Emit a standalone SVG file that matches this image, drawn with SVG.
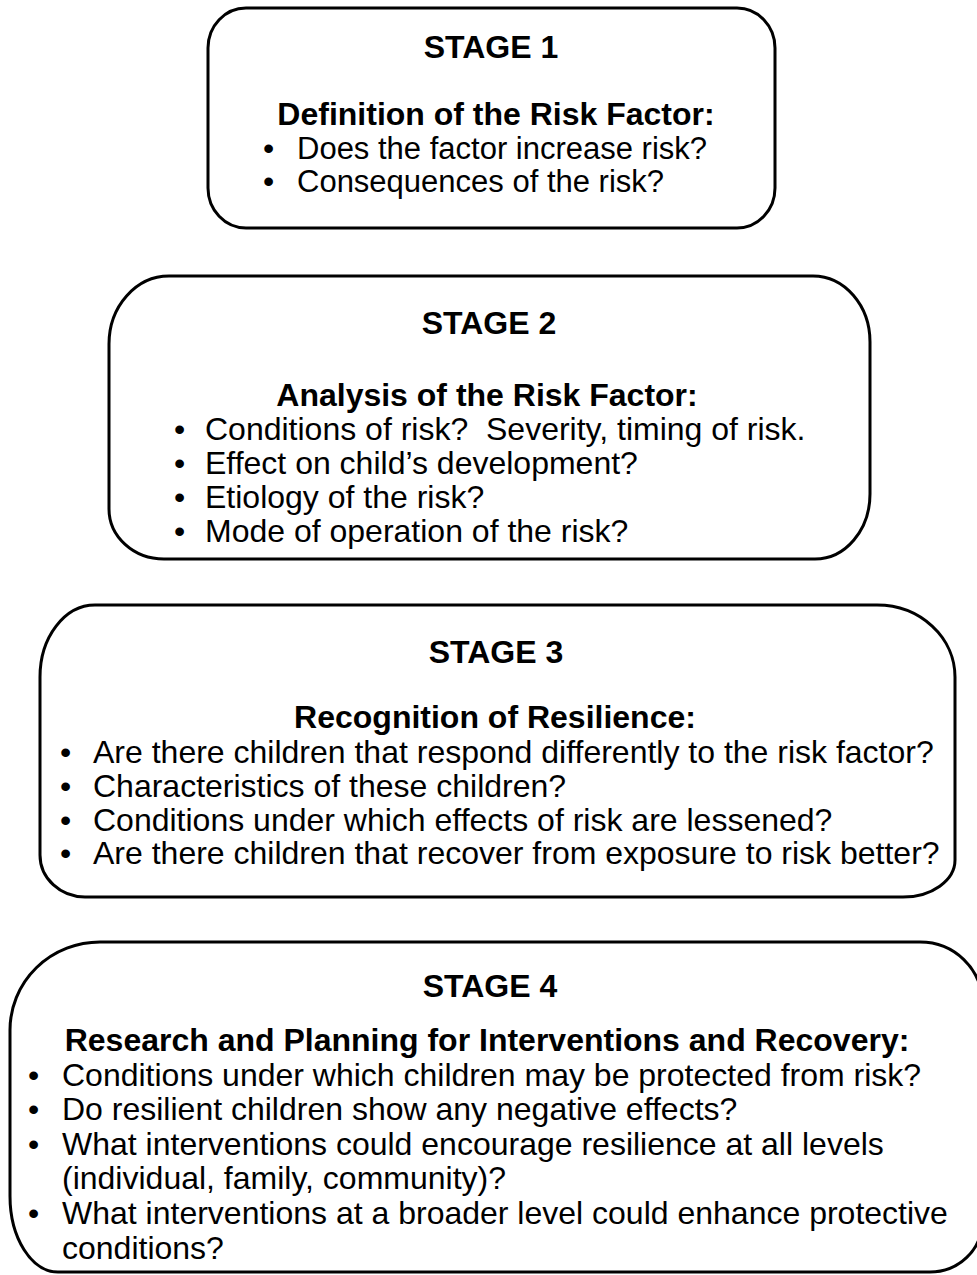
<svg xmlns="http://www.w3.org/2000/svg" width="977" height="1275" viewBox="0 0 977 1275">
<style>
.box{fill:#fff;stroke:#000;stroke-width:3}
text{font-family:"Liberation Sans",Arial,sans-serif;font-size:32px;fill:#000}
.h{font-weight:bold;text-anchor:middle}
</style>
<rect width="977" height="1275" fill="#fff"/>
<g id="stage1">
<path class="box" d="M246,8 H737 A38,40 0 0 1 775,48 V188 A38,40 0 0 1 737,228 H246 A38,40 0 0 1 208,188 V48 A38,40 0 0 1 246,8 Z"/>
<text class="h" x="491" y="58">STAGE 1</text>
<text class="h" x="496" y="125">Definition of the Risk Factor:</text>
<text x="263" y="159">•</text><text x="297" y="159" style="font-size:31px">Does the factor increase risk?</text>
<text x="263" y="192">•</text><text x="297" y="192" style="font-size:31px">Consequences of the risk?</text>
</g>
<g id="stage2">
<path class="box" d="M169,276 H813 A57,66 0 0 1 870,342 V494 A55,65 0 0 1 815,559 H164 A55,50 0 0 1 109,509 V344 A60,68 0 0 1 169,276 Z"/>
<text class="h" x="489" y="334">STAGE 2</text>
<text class="h" x="487" y="406">Analysis of the Risk Factor:</text>
<text x="174" y="440">•</text><text x="205" y="440" xml:space="preserve">Conditions of risk?  Severity, timing of risk.</text>
<text x="174" y="474">•</text><text x="205" y="474">Effect on child’s development?</text>
<text x="174" y="508">•</text><text x="205" y="508">Etiology of the risk?</text>
<text x="174" y="542">•</text><text x="205" y="542">Mode of operation of the risk?</text>
</g>
<g id="stage3">
<path class="box" d="M95,605 H877 A78,72 0 0 1 955,677 V860 A52,37 0 0 1 903,897 H85 A45,42 0 0 1 40,855 V677 A55,72 0 0 1 95,605 Z"/>
<text class="h" x="496" y="663">STAGE 3</text>
<text class="h" x="495" y="728">Recognition of Resilience:</text>
<text x="60" y="763">•</text><text x="93" y="763">Are there children that respond differently to the risk factor?</text>
<text x="60" y="797">•</text><text x="93" y="797">Characteristics of these children?</text>
<text x="60" y="831">•</text><text x="93" y="831">Conditions under which effects of risk are lessened?</text>
<text x="60" y="864">•</text><text x="93" y="864">Are there children that recover from exposure to risk better?</text>
</g>
<g id="stage4">
<path class="box" d="M100,942 H920 A62,60 0 0 1 982,1002 V1222 A52,50 0 0 1 930,1272 H58 A48,76 0 0 1 10,1196 V1030 A90,88 0 0 1 100,942 Z"/>
<text class="h" x="490" y="997">STAGE 4</text>
<text class="h" x="487" y="1051">Research and Planning for Interventions and Recovery:</text>
<text x="28" y="1086">•</text><text x="62" y="1086">Conditions under which children may be protected from risk?</text>
<text x="28" y="1120">•</text><text x="62" y="1120">Do resilient children show any negative effects?</text>
<text x="28" y="1155">•</text><text x="62" y="1155">What interventions could encourage resilience at all levels</text>
<text x="62" y="1189">(individual, family, community)?</text>
<text x="28" y="1224">•</text><text x="62" y="1224">What interventions at a broader level could enhance protective</text>
<text x="62" y="1259">conditions?</text>
</g>
<g id="connectors"/>
</svg>
